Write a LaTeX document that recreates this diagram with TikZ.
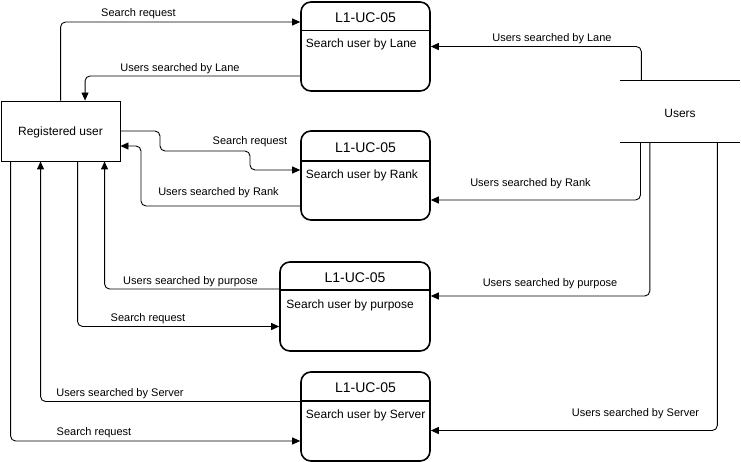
\documentclass[tikz,border=0pt]{standalone}
\usepackage{fontspec}
\setmainfont{Liberation Sans}
\usetikzlibrary{arrows.meta}
\begin{document}
\begin{tikzpicture}[x=1pt,y=-1pt,
  conn/.style={draw=black,line width=0.9pt,rounded corners=5pt,-{Triangle[length=8pt,width=7pt]}},
  lbl/.style={font=\fontsize{11}{13}\selectfont,inner sep=0pt,yshift=-1.5pt},
  proc/.style={draw=black,line width=1.6pt,rounded corners=10pt,minimum height=89pt,inner sep=0pt},
  ptitle/.style={font=\fontsize{14}{16}\selectfont,inner sep=0pt,yshift=-1pt},
  pbody/.style={font=\fontsize{12}{14}\selectfont,inner sep=0pt,anchor=west,yshift=-1.5pt},
  entity/.style={draw=black,line width=0.9pt,minimum width=119pt,minimum height=60pt,inner sep=0pt,font=\fontsize{12}{14}\selectfont},
  divider/.style={draw=black,line width=1.6pt}
]
\useasboundingbox (0,0) rectangle (741,462);

% Entity
\node[entity] (ru) at (60.5,131) {\raisebox{-1.8pt}[\height][\depth]{Registered user}};

% Data store
\node[minimum width=120pt,minimum height=61pt,inner sep=0pt,font=\fontsize{12}{14}\selectfont] (users) at (680,111.5) {\raisebox{-1.5pt}[\height][\depth]{Users}};
\draw[line width=0.9pt] (users.north west) -- (users.north east);
\draw[line width=0.9pt] (users.south west) -- (users.south east);

% Processes
\node[proc,minimum width=129pt] (p1) at (365.5,46.5) {};
\draw[divider] ([yshift=-29.5pt]p1.north west) -- ([yshift=-29.5pt]p1.north east);
\node[ptitle] (p1t) at ([yshift=-15pt]p1.north) {L1-UC-05};
\node[pbody] (p1b) at ([xshift=5.5pt,yshift=-42pt]p1.north west) {Search user by Lane};

\node[proc,minimum width=129pt] (p2) at (365.5,175.5) {};
\draw[divider] ([yshift=-31pt]p2.north west) -- ([yshift=-31pt]p2.north east);
\node[ptitle] (p2t) at ([yshift=-16pt]p2.north) {L1-UC-05};
\node[pbody] (p2b) at ([xshift=5.5pt,yshift=-44pt]p2.north west) {Search user by Rank};

\node[proc,minimum width=150pt] (p3) at (355,306.5) {};
\draw[divider] ([yshift=-29pt]p3.north west) -- ([yshift=-29pt]p3.north east);
\node[ptitle] (p3t) at ([yshift=-15pt]p3.north) {L1-UC-05};
\node[pbody] (p3b) at ([xshift=7pt,yshift=-43pt]p3.north west) {Search user by purpose};

\node[proc,minimum width=129pt] (p4) at (365.5,416.5) {};
\draw[divider] ([yshift=-30pt]p4.north west) -- ([yshift=-30pt]p4.north east);
\node[ptitle] (p4t) at ([yshift=-15pt]p4.north) {L1-UC-05};
\node[pbody] (p4b) at ([xshift=5.5pt,yshift=-43pt]p4.north west) {Search user by Server};

% Lane
\draw[conn] ([xshift=60pt]ru.north west) |- ([yshift=24.5pt]p1.west);
\node[lbl] (l1) at (138.5,12.5) {Search request};
\draw[conn] ([yshift=-29.5pt]p1.west) -| ([xshift=84.5pt]ru.north west);
\node[lbl] (l2) at (180,67) {Users searched by Lane};
\draw[conn] ([xshift=21.5pt]users.north west) |- (p1.east);
\node[lbl] (l3) at (552,37.5) {Users searched by Lane};

% Rank
\draw[conn] (ru.east) -| (160,151) -| (250,170) -- ([yshift=5.5pt]p2.west);
\node[lbl] (l4) at (250,140) {Search request};
\draw[conn] ([yshift=-30.5pt]p2.west) -| (141,146) -- ([yshift=-15pt]ru.east);
\node[lbl] (l5) at (218.5,191.5) {Users searched by Rank};
\draw[conn] ([xshift=20.7pt]users.south west) |- ([yshift=-24.5pt]p2.east);
\node[lbl] (l6) at (530.5,182.5) {Users searched by Rank};

% Purpose
\draw[conn] ([yshift=17.5pt]p3.west) -| ([xshift=104pt]ru.south west);
\node[lbl] (l7) at (190.5,280) {Users searched by purpose};
\draw[conn] ([xshift=77pt]ru.south west) |- ([yshift=-20pt]p3.west);
\node[lbl] (l8) at (148,317) {Search request};
\draw[conn] ([xshift=30pt]users.south west) |- ([yshift=10.5pt]p3.east);
\node[lbl] (l9) at (550,282) {Users searched by purpose};

% Server
\draw[conn] ([yshift=15pt]p4.west) -| ([xshift=40pt]ru.south west);
\node[lbl] (l10) at (120,392) {Users searched by Server};
\draw[conn] ([xshift=10pt]ru.south west) |- ([yshift=-24.5pt]p4.west);
\node[lbl] (l11) at (94,431.5) {Search request};
\draw[conn] ([xshift=97.5pt]users.south west) |- ([yshift=-14pt]p4.east);
\node[lbl] (l12) at (635.5,412) {Users searched by Server};
\end{tikzpicture}
\end{document}
